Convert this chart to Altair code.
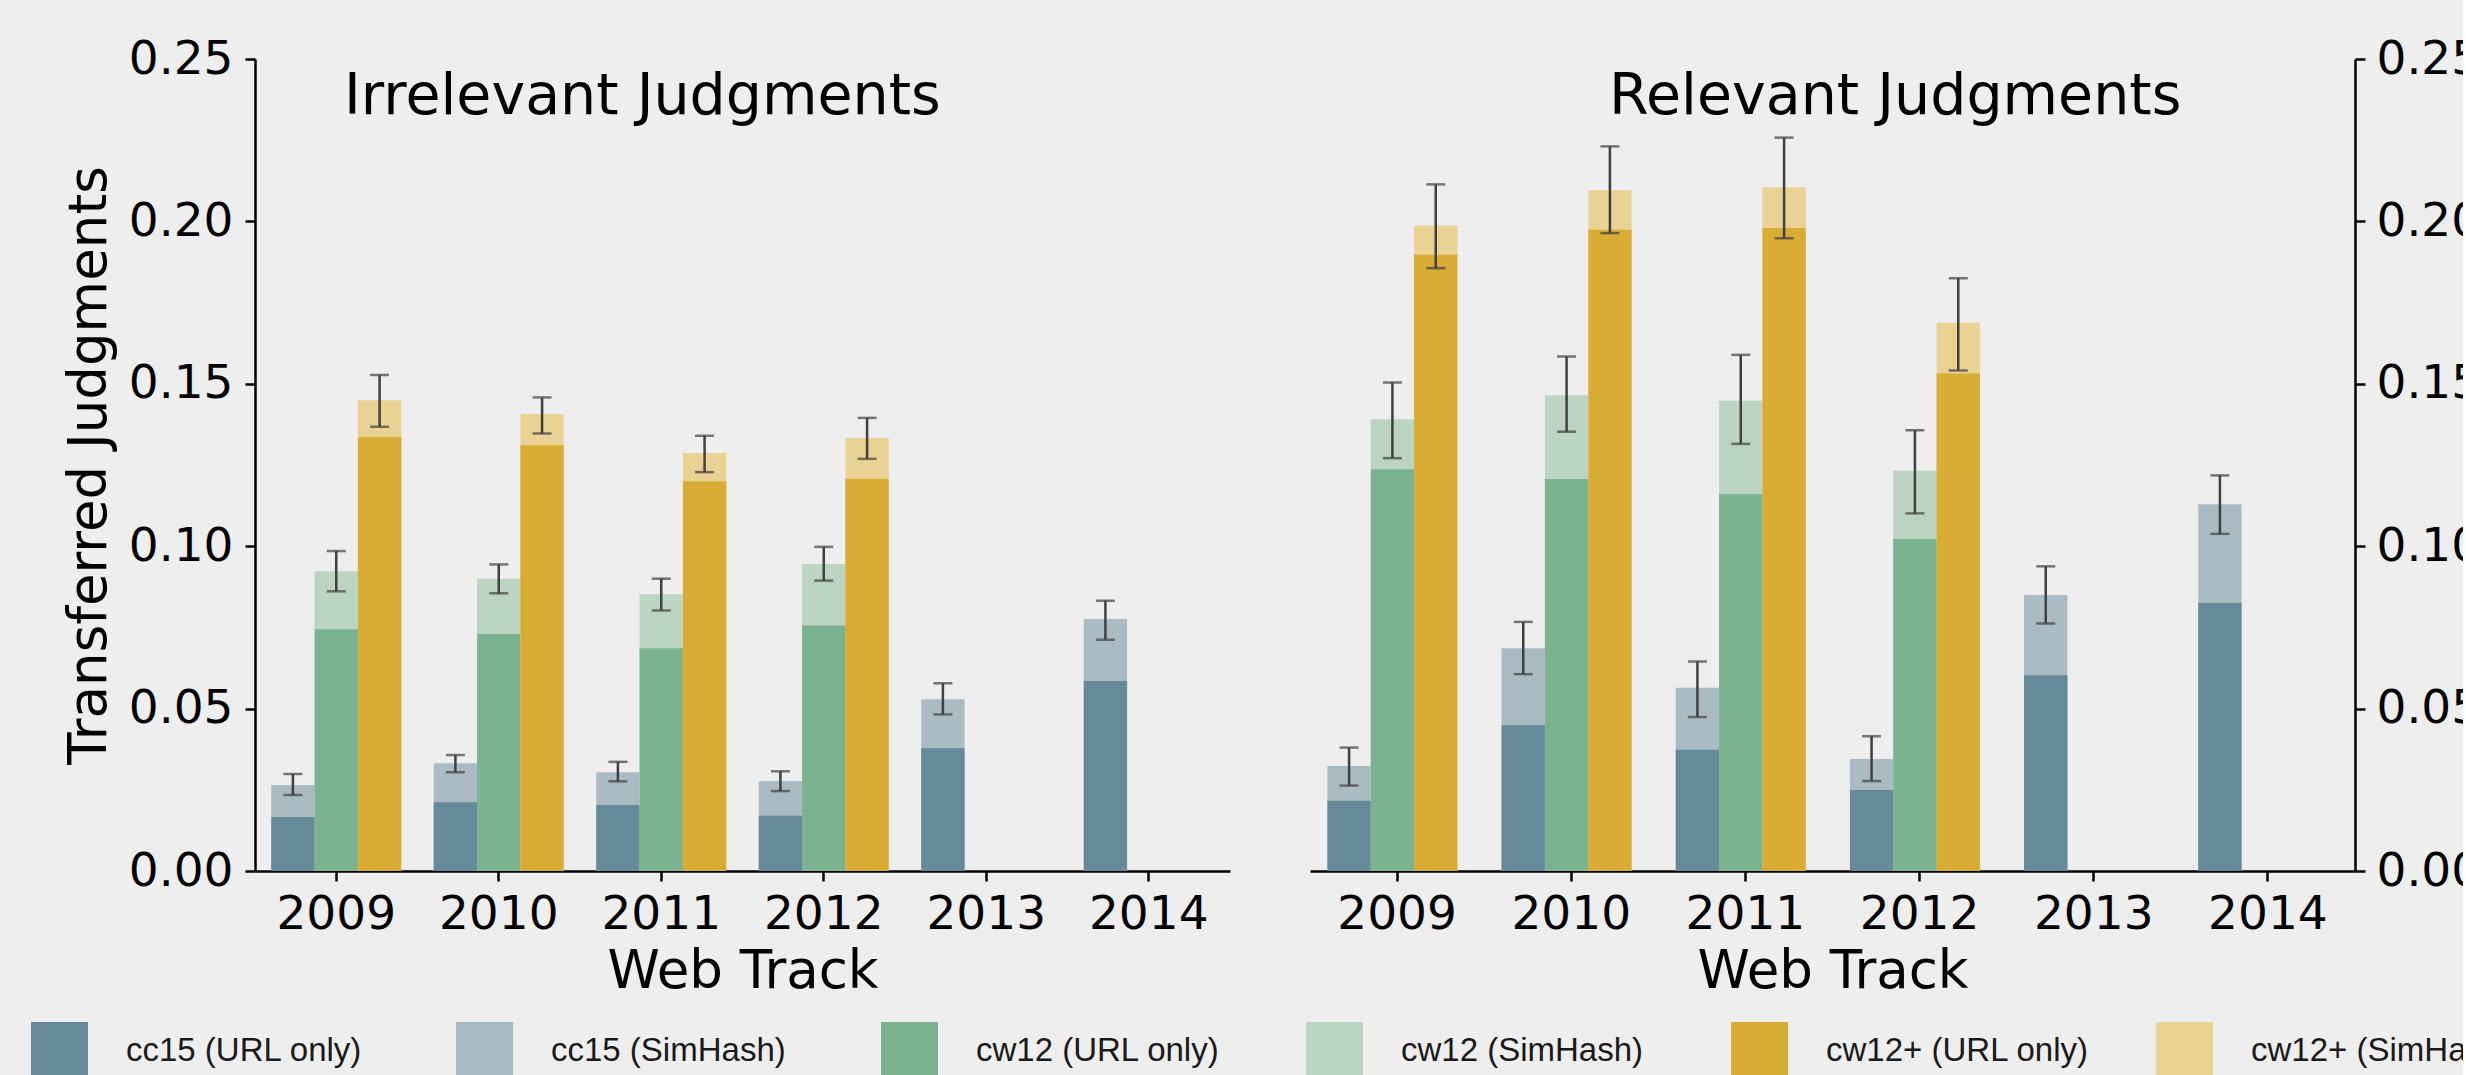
import altair as alt
import pandas as pd

years = ["2009", "2010", "2011", "2012", "2013", "2014"]
sources = ["cc15", "cw12", "cw12+"]
url_names = ["ᴄᴄ15 (URL only)", "ᴄᴡ12 (URL only)", "ᴄᴡ12+ (URL only)"]
sim_names = ["ᴄᴄ15 (SimHash)", "ᴄᴡ12 (SimHash)", "ᴄᴡ12+ (SimHash)"]
legend_order = [url_names[0], sim_names[0], url_names[1], sim_names[1], url_names[2], sim_names[2]]
legend_colors = ["#668A99", "#AABBC3", "#7BB290", "#BCD5C3", "#D8AC35", "#E9D294"]

# Irrelevant judgments
irr_cc15_url = [0.0166, 0.0212, 0.0203, 0.0170, 0.0378, 0.0585]
irr_cc15_sim = [0.0265, 0.0332, 0.0304, 0.0277, 0.0529, 0.0776]
irr_cc15_lo = [0.0234, 0.0304, 0.0276, 0.0246, 0.0482, 0.0712]
irr_cc15_hi = [0.0299, 0.0357, 0.0336, 0.0307, 0.0578, 0.0832]
irr_cw12_url = [0.0744, 0.0730, 0.0686, 0.0756]
irr_cw12_sim = [0.0923, 0.0900, 0.0852, 0.0945]
irr_cw12_lo = [0.0861, 0.0855, 0.0802, 0.0894]
irr_cw12_hi = [0.0985, 0.0944, 0.0900, 0.0998]
irr_cw12p_url = [0.1336, 0.1311, 0.1200, 0.1207]
irr_cw12p_sim = [0.1449, 0.1407, 0.1287, 0.1333]
irr_cw12p_lo = [0.1368, 0.1347, 0.1228, 0.1269]
irr_cw12p_hi = [0.1527, 0.1458, 0.1340, 0.1395]

# Relevant judgments
rel_cc15_url = [0.0216, 0.0449, 0.0373, 0.0249, 0.0603, 0.0825]
rel_cc15_sim = [0.0323, 0.0686, 0.0564, 0.0345, 0.0850, 0.1129]
rel_cc15_lo = [0.0263, 0.0606, 0.0474, 0.0277, 0.0762, 0.1038]
rel_cc15_hi = [0.0380, 0.0767, 0.0645, 0.0415, 0.0938, 0.1218]
rel_cw12_url = [0.1237, 0.1207, 0.1161, 0.1022]
rel_cw12_sim = [0.1391, 0.1465, 0.1448, 0.1232]
rel_cw12_lo = [0.1271, 0.1352, 0.1315, 0.1101]
rel_cw12_hi = [0.1504, 0.1584, 0.1589, 0.1357]
rel_cw12p_url = [0.1897, 0.1974, 0.1980, 0.1532]
rel_cw12p_sim = [0.1987, 0.2096, 0.2105, 0.1688]
rel_cw12p_lo = [0.1856, 0.1964, 0.1948, 0.1541]
rel_cw12p_hi = [0.2114, 0.2231, 0.2258, 0.1825]

y_ticks = [0.0, 0.05, 0.10, 0.15, 0.20, 0.25]


def build(series):
    rows = []
    for si, (url, sim, lo, hi) in enumerate(series):
        for i in range(len(url)):
            rows.append({
                "year": years[i], "source": sources[si],
                "url": url[i], "sim": sim[i], "lo": lo[i], "hi": hi[i],
                "url_series": url_names[si], "sim_series": sim_names[si],
            })
    return pd.DataFrame(rows)


irr_df = build([
    (irr_cc15_url, irr_cc15_sim, irr_cc15_lo, irr_cc15_hi),
    (irr_cw12_url, irr_cw12_sim, irr_cw12_lo, irr_cw12_hi),
    (irr_cw12p_url, irr_cw12p_sim, irr_cw12p_lo, irr_cw12p_hi),
])
rel_df = build([
    (rel_cc15_url, rel_cc15_sim, rel_cc15_lo, rel_cc15_hi),
    (rel_cw12_url, rel_cw12_sim, rel_cw12_lo, rel_cw12_hi),
    (rel_cw12p_url, rel_cw12p_sim, rel_cw12p_lo, rel_cw12p_hi),
])

cscale = alt.Scale(domain=legend_order, range=legend_colors)
legend = alt.Legend(
    title=None, orient="none", legendX=-224, legendY=963,
    direction="horizontal", columns=6, symbolType="square", symbolSize=3249,
    symbolStrokeWidth=0, symbolOpacity=1, labelFont="Liberation Sans",
    labelFontSize=33, labelOffset=38, columnPadding=66, gridAlign="all",
    labelColor="#1a1a1a", labelLimit=500,
)


def panel(df, title, orient, width, title_dx, ytitle):
    xscale = alt.Scale(domain=years, paddingInner=0.2, paddingOuter=0.1)
    xaxis = alt.Axis(title="Web Track", labelAngle=0, titlePadding=8)
    if ytitle:
        yaxis = alt.Axis(orient=orient, values=y_ticks, format=".2f",
                         title=ytitle, titlePadding=12, labelPadding=12)
    else:
        yaxis = alt.Axis(orient=orient, values=y_ticks, format=".2f",
                         title=None, labelPadding=11)
    yscale = alt.Scale(domain=[0, 0.25], nice=False)
    x = alt.X("year:N", scale=xscale, axis=xaxis)
    xo = alt.XOffset("source:N", scale=alt.Scale(domain=sources, paddingInner=0, paddingOuter=0))
    base = alt.Chart(df)
    sim = base.mark_bar().encode(
        x=x, xOffset=xo,
        y=alt.Y("sim:Q", scale=yscale, axis=yaxis),
        color=alt.Color("sim_series:N", scale=cscale, legend=legend),
    )
    url = base.mark_bar().encode(
        x=x, xOffset=xo,
        y=alt.Y("url:Q", scale=yscale, axis=yaxis),
        color=alt.Color("url_series:N", scale=cscale, legend=legend),
    )
    err = base.mark_rule(color="#404040", strokeWidth=2.5).encode(
        x=x, xOffset=xo,
        y=alt.Y("lo:Q", scale=yscale, axis=yaxis), y2="hi:Q",
    )
    cap_lo = base.mark_tick(color="#404040", thickness=2.5, size=19, orient="horizontal").encode(
        x=x, xOffset=xo, y=alt.Y("lo:Q", scale=yscale, axis=yaxis),
    )
    cap_hi = base.mark_tick(color="#404040", thickness=2.5, size=19, orient="horizontal").encode(
        x=x, xOffset=xo, y=alt.Y("hi:Q", scale=yscale, axis=yaxis),
    )
    ttl = alt.Chart(pd.DataFrame({"t": [title]})).mark_text(
        align="left", baseline="alphabetic", fontSize=57, font="DejaVu Sans", color="black"
    ).encode(text="t:N", x=alt.value(title_dx), y=alt.value(55))
    return alt.layer(sim, url, err, cap_lo, cap_hi, ttl).properties(width=width, height=812)


left = panel(irr_df, "Irrelevant Judgments", "left", 975, 89, "Transferred Judgments")
right = panel(rel_df, "Relevant Judgments", "right", 1045, 299, None)

chart = alt.hconcat(left, right, spacing=80).resolve_scale(
    x="independent", y="independent", color="shared"
).configure(
    background="#EEEEEE",
    padding={"left": 31, "top": 35, "right": -50, "bottom": -2},
    font="DejaVu Sans",
).configure_view(strokeWidth=0).configure_axis(
    grid=False, domainColor="black", domainWidth=2.5, tickColor="black",
    tickWidth=2.5, tickSize=10, labelFont="DejaVu Sans", labelFontSize=47,
    labelColor="black", titleFont="DejaVu Sans", titleFontSize=53,
    titleFontWeight="normal", titleColor="black", labelPadding=10,
)

chart.save("out.html", embed_options={"renderer": "svg", "actions": False})
